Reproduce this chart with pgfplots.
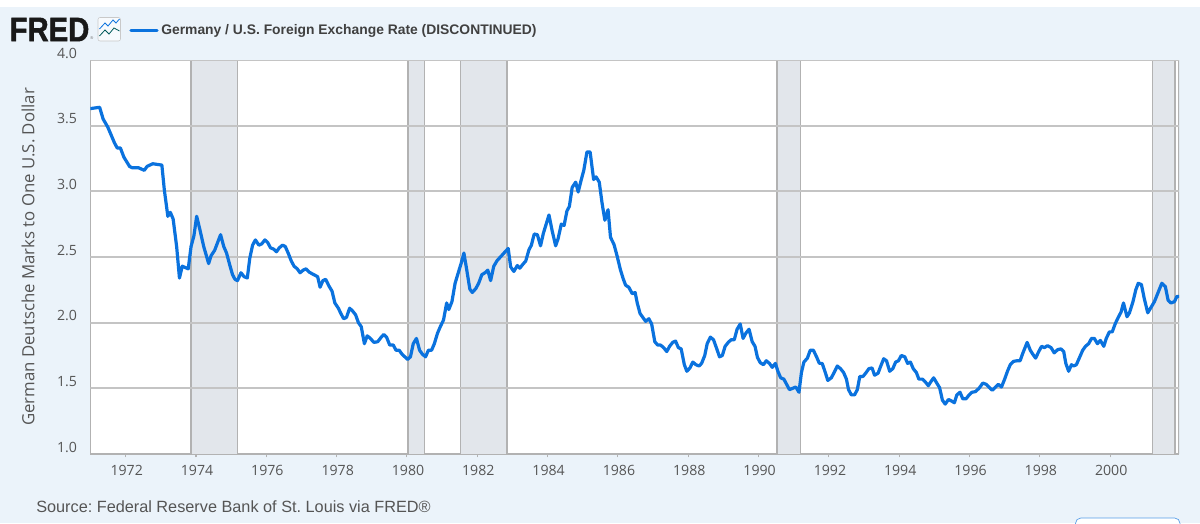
\documentclass[border=0pt]{standalone}
\usepackage{fontspec}
\setmainfont{Open Sans}
\newfontfamily\logofont{Liberation Sans}
\newfontfamily\heavyfont[FakeBold=1.5]{Liberation Sans Bold}
\usepackage{pgfplots}
\usepackage{pgfplotstable}
\pgfplotsset{compat=1.18}

\definecolor{pagebg}{HTML}{EBF3FA}
\definecolor{fredblue}{HTML}{0A72DE}
\definecolor{gridgrey}{HTML}{C4C4C4}
\definecolor{edgegrey}{HTML}{B2B2B2}
\definecolor{recess}{HTML}{E2E6EB}
\definecolor{textgrey}{HTML}{555555}

% German marks per dollar
\pgfplotstableread{
year value
1971.00 3.63
1971.26 3.64
1971.36 3.55
1971.49 3.49
1971.57 3.44
1971.68 3.37
1971.76 3.33
1971.85 3.33
1971.95 3.26
1972.11 3.19
1972.18 3.18
1972.36 3.18
1972.53 3.16
1972.61 3.19
1972.77 3.21
1973.03 3.20
1973.10 3.01
1973.20 2.81
1973.27 2.84
1973.35 2.79
1973.45 2.58
1973.53 2.34
1973.61 2.43
1973.78 2.41
1973.86 2.58
1973.94 2.66
1974.02 2.81
1974.11 2.71
1974.22 2.58
1974.36 2.45
1974.43 2.51
1974.53 2.55
1974.70 2.67
1974.79 2.58
1974.87 2.53
1974.96 2.44
1975.04 2.365
1975.11 2.33
1975.18 2.32
1975.28 2.38
1975.37 2.35
1975.46 2.34
1975.53 2.49
1975.61 2.59
1975.69 2.63
1975.79 2.59
1975.87 2.60
1975.96 2.63
1976.04 2.61
1976.12 2.57
1976.21 2.56
1976.29 2.54
1976.37 2.57
1976.46 2.59
1976.54 2.58
1976.63 2.525
1976.71 2.47
1976.79 2.43
1976.88 2.41
1976.96 2.38
1977.05 2.40
1977.13 2.41
1977.22 2.385
1977.32 2.37
1977.39 2.36
1977.46 2.35
1977.53 2.27
1977.61 2.32
1977.69 2.33
1977.78 2.28
1977.87 2.24
1977.95 2.15
1978.05 2.11
1978.12 2.07
1978.20 2.03
1978.28 2.04
1978.37 2.11
1978.45 2.09
1978.54 2.06
1978.62 2.00
1978.70 1.97
1978.79 1.84
1978.87 1.90
1978.96 1.88
1979.06 1.85
1979.17 1.855
1979.27 1.89
1979.34 1.91
1979.42 1.89
1979.51 1.83
1979.61 1.83
1979.69 1.79
1979.78 1.79
1979.86 1.76
1979.94 1.74
1980.02 1.72
1980.10 1.74
1980.18 1.84
1980.27 1.88
1980.36 1.79
1980.44 1.76
1980.53 1.74
1980.61 1.79
1980.70 1.79
1980.78 1.84
1980.87 1.92
1980.95 1.97
1981.04 2.02
1981.13 2.15
1981.19 2.10
1981.28 2.16
1981.37 2.30
1981.46 2.38
1981.54 2.45
1981.62 2.53
1981.69 2.42
1981.79 2.255
1981.86 2.23
1981.96 2.26
1982.04 2.30
1982.13 2.365
1982.22 2.38
1982.30 2.40
1982.38 2.32
1982.47 2.43
1982.57 2.475
1982.66 2.50
1982.76 2.53
1982.88 2.565
1982.95 2.425
1983.04 2.39
1983.14 2.435
1983.21 2.415
1983.30 2.445
1983.38 2.47
1983.47 2.555
1983.54 2.59
1983.62 2.675
1983.71 2.67
1983.80 2.585
1983.88 2.68
1983.96 2.75
1984.04 2.82
1984.13 2.70
1984.23 2.585
1984.30 2.64
1984.39 2.75
1984.47 2.74
1984.55 2.85
1984.62 2.885
1984.70 3.03
1984.80 3.07
1984.87 2.995
1984.95 3.08
1985.03 3.16
1985.12 3.30
1985.21 3.30
1985.31 3.09
1985.38 3.11
1985.47 3.07
1985.55 2.91
1985.63 2.78
1985.72 2.86
1985.79 2.65
1985.89 2.595
1985.98 2.505
1986.07 2.405
1986.15 2.335
1986.22 2.285
1986.31 2.27
1986.41 2.22
1986.49 2.23
1986.55 2.15
1986.63 2.07
1986.71 2.04
1986.79 2.01
1986.88 2.03
1986.96 1.99
1987.05 1.855
1987.13 1.83
1987.21 1.83
1987.30 1.81
1987.39 1.78
1987.47 1.82
1987.56 1.85
1987.64 1.86
1987.72 1.81
1987.80 1.80
1987.89 1.68
1987.96 1.63
1988.05 1.655
1988.13 1.70
1988.22 1.68
1988.31 1.67
1988.38 1.69
1988.47 1.75
1988.54 1.84
1988.63 1.89
1988.72 1.87
1988.80 1.81
1988.89 1.74
1988.97 1.75
1989.05 1.82
1989.14 1.85
1989.22 1.87
1989.31 1.87
1989.39 1.95
1989.48 1.99
1989.56 1.88
1989.64 1.92
1989.73 1.95
1989.82 1.855
1989.90 1.82
1989.97 1.735
1990.05 1.695
1990.14 1.68
1990.22 1.71
1990.31 1.69
1990.39 1.66
1990.48 1.69
1990.55 1.63
1990.63 1.58
1990.72 1.57
1990.80 1.53
1990.88 1.49
1990.97 1.50
1991.06 1.51
1991.15 1.47
1991.22 1.62
1991.29 1.70
1991.39 1.73
1991.47 1.79
1991.56 1.79
1991.65 1.74
1991.73 1.69
1991.81 1.69
1991.90 1.62
1991.97 1.56
1992.07 1.58
1992.15 1.62
1992.24 1.67
1992.33 1.65
1992.42 1.62
1992.50 1.57
1992.56 1.49
1992.64 1.45
1992.73 1.45
1992.81 1.49
1992.88 1.59
1992.97 1.59
1993.06 1.62
1993.14 1.65
1993.23 1.655
1993.30 1.60
1993.40 1.615
1993.47 1.665
1993.56 1.725
1993.64 1.71
1993.73 1.63
1993.82 1.65
1993.90 1.70
1993.98 1.71
1994.06 1.75
1994.16 1.74
1994.24 1.69
1994.32 1.70
1994.40 1.65
1994.49 1.62
1994.56 1.57
1994.66 1.57
1994.74 1.55
1994.83 1.52
1994.90 1.55
1994.98 1.58
1995.07 1.54
1995.15 1.505
1995.23 1.41
1995.31 1.38
1995.40 1.415
1995.48 1.405
1995.57 1.39
1995.64 1.45
1995.73 1.47
1995.81 1.42
1995.90 1.42
1995.99 1.45
1996.07 1.47
1996.17 1.475
1996.27 1.50
1996.38 1.54
1996.48 1.53
1996.57 1.505
1996.65 1.485
1996.74 1.51
1996.82 1.53
1996.91 1.51
1997.00 1.57
1997.08 1.63
1997.16 1.68
1997.25 1.705
1997.35 1.71
1997.44 1.71
1997.52 1.77
1997.64 1.85
1997.73 1.79
1997.80 1.76
1997.88 1.73
1997.97 1.78
1998.05 1.82
1998.13 1.81
1998.22 1.825
1998.32 1.81
1998.41 1.77
1998.51 1.795
1998.60 1.80
1998.68 1.78
1998.74 1.69
1998.82 1.63
1998.90 1.68
1998.96 1.67
1999.04 1.68
1999.13 1.735
1999.22 1.79
1999.30 1.82
1999.39 1.84
1999.47 1.88
1999.55 1.88
1999.64 1.84
1999.72 1.865
1999.82 1.82
1999.89 1.88
1999.98 1.93
2000.06 1.93
2000.15 1.995
2000.24 2.045
2000.31 2.08
2000.38 2.15
2000.48 2.045
2000.55 2.075
2000.65 2.16
2000.73 2.25
2000.80 2.30
2000.89 2.29
2000.97 2.185
2001.07 2.075
2001.16 2.115
2001.26 2.16
2001.35 2.22
2001.47 2.30
2001.57 2.275
2001.65 2.17
2001.73 2.15
2001.83 2.16
2001.90 2.20
2001.96 2.20
}\ratetable

\pgfplotsset{
  recession/.style={fill=recess, draw=none, forget plot},
  recession edge/.style={draw=edgegrey, line width=1.1pt, forget plot},
  gridline/.style={draw=gridgrey, line width=1.3pt, forget plot},
}

\begin{document}
\begin{tikzpicture}[x=0.75pt,y=-0.75pt]
% whole picture in reference pixels, origin top left
\path (0,0) rectangle (1200,523);
\fill[pagebg] (0,7.5) rectangle (1200,523);

% logo
\node[anchor=west,inner sep=0pt,text=black!90,xscale=0.86] at (9.5,29.5)
  {\heavyfont\fontsize{25.5}{26}\selectfont FRED};
\node[anchor=west,inner sep=0pt,text=black!60] at (90,38.5)
  {\logofont\fontsize{3}{3}\selectfont\textregistered};
\draw[edgegrey!70,fill=white!60!pagebg,rounded corners=1.5] (98,17.5) rectangle (120.5,41);
\draw[fredblue,line width=0.6pt] (99.5,29) -- (105,23) -- (108,26) -- (113,20) -- (116,23) -- (119.5,19);
\draw[teal!70!black,line width=0.6pt] (99.5,36) -- (105,30) -- (109,34) -- (114,28) -- (119.5,31);

\begin{axis}[
  at={(67.875pt,-340.5pt)}, anchor=south west,
  scale only axis,
  width=816.4pt, height=295.5pt,
  axis background/.style={fill=white},
  xmin=1971, xmax=2001.96,
  ymin=1, ymax=4,
  xtick={1972,1974,...,2000},
  ytick={1,1.5,...,4},
  axis lines=left,
  axis line style={edgegrey, line width=1pt, -},
  x tick style={edgegrey, line width=0.8pt},
  y tick style={draw=none},
  major tick length=2.6pt,
  tick align=outside,
  xticklabel style={/pgf/number format/1000 sep={}, text=textgrey, font=\fontsize{10.6}{12}\selectfont, yshift=-2.5pt, xshift=0.8pt},
  yticklabel style={/pgf/number format/fixed, /pgf/number format/fixed zerofill, /pgf/number format/precision=1,
    text=textgrey, font=\fontsize{10.6}{12}\selectfont, yshift=5.2pt, xshift=-4pt},
  /pgf/number format/assume math mode=true,
  ylabel={German Deutsche Marks to One U.S. Dollar},
  every axis y label/.append style={at={(axis description cs:-0.0574,0.5)}, anchor=center, rotate=0},
  ylabel style={text=textgrey, font=\fontsize{12.6}{14}\selectfont},
  legend style={at={(axis description cs:0.0355,1.0745)}, anchor=west, draw=none, fill=none,
    inner sep=0pt, legend cell align=left,
    font=\logofont\fontsize{10.4}{12}\selectfont\bfseries, text=black!75},
  legend image code/.code={\draw[#1,line width=2.4pt] (0pt,0pt) -- (19.5pt,0pt);},
]
% recession bands
\addplot[recession] coordinates {(1973.86,1) (1973.86,4) (1975.18,4) (1975.18,1)} \closedcycle;
\addplot[recession] coordinates {(1980.03,1) (1980.03,4) (1980.50,4) (1980.50,1)} \closedcycle;
\addplot[recession] coordinates {(1981.53,1) (1981.53,4) (1982.84,4) (1982.84,1)} \closedcycle;
\addplot[recession] coordinates {(1990.53,1) (1990.53,4) (1991.20,4) (1991.20,1)} \closedcycle;
\addplot[recession] coordinates {(2001.20,1) (2001.20,4) (2001.85,4) (2001.85,1)} \closedcycle;
\addplot[recession edge] coordinates {(1973.86,1) (1973.86,4)};
\addplot[recession edge] coordinates {(1975.18,1) (1975.18,4)};
\addplot[recession edge] coordinates {(1980.03,1) (1980.03,4)};
\addplot[recession edge] coordinates {(1980.50,1) (1980.50,4)};
\addplot[recession edge] coordinates {(1981.53,1) (1981.53,4)};
\addplot[recession edge] coordinates {(1982.84,1) (1982.84,4)};
\addplot[recession edge] coordinates {(1990.53,1) (1990.53,4)};
\addplot[recession edge] coordinates {(1991.20,1) (1991.20,4)};
\addplot[recession edge] coordinates {(2001.20,1) (2001.20,4)};
\addplot[recession edge] coordinates {(2001.85,1) (2001.85,4)};
\addplot[recession edge] coordinates {(2001.96,1) (2001.96,4)};
% grid goes over the bands, so it is drawn after them
\addplot[gridline] coordinates {(1971,1.5) (2001.96,1.5)};
\addplot[gridline] coordinates {(1971,2) (2001.96,2)};
\addplot[gridline] coordinates {(1971,2.5) (2001.96,2.5)};
\addplot[gridline] coordinates {(1971,3) (2001.96,3)};
\addplot[gridline] coordinates {(1971,3.5) (2001.96,3.5)};
\addplot[gridline] coordinates {(1971,4) (2001.96,4)};

\addplot[fredblue, line width=2.4pt, line join=round, line cap=round] table[x=year,y=value] {\ratetable};
\addlegendentry{Germany / U.S. Foreign Exchange Rate (DISCONTINUED)}
\end{axis}

\node[anchor=west,inner sep=0pt,text=textgrey] at (36,507)
  {\logofont\frenchspacing\fontsize{12.2}{14}\selectfont Source: Federal Reserve Bank of St. Louis via FRED\textregistered};

% edit-graph button, cut by the lower edge of the picture
\draw[fredblue!70,fill=white,line width=0.5pt,rounded corners=4] (1075.5,523) -- (1075.5,518) -- (1180,518) -- (1180,523);
\end{tikzpicture}
\end{document}
